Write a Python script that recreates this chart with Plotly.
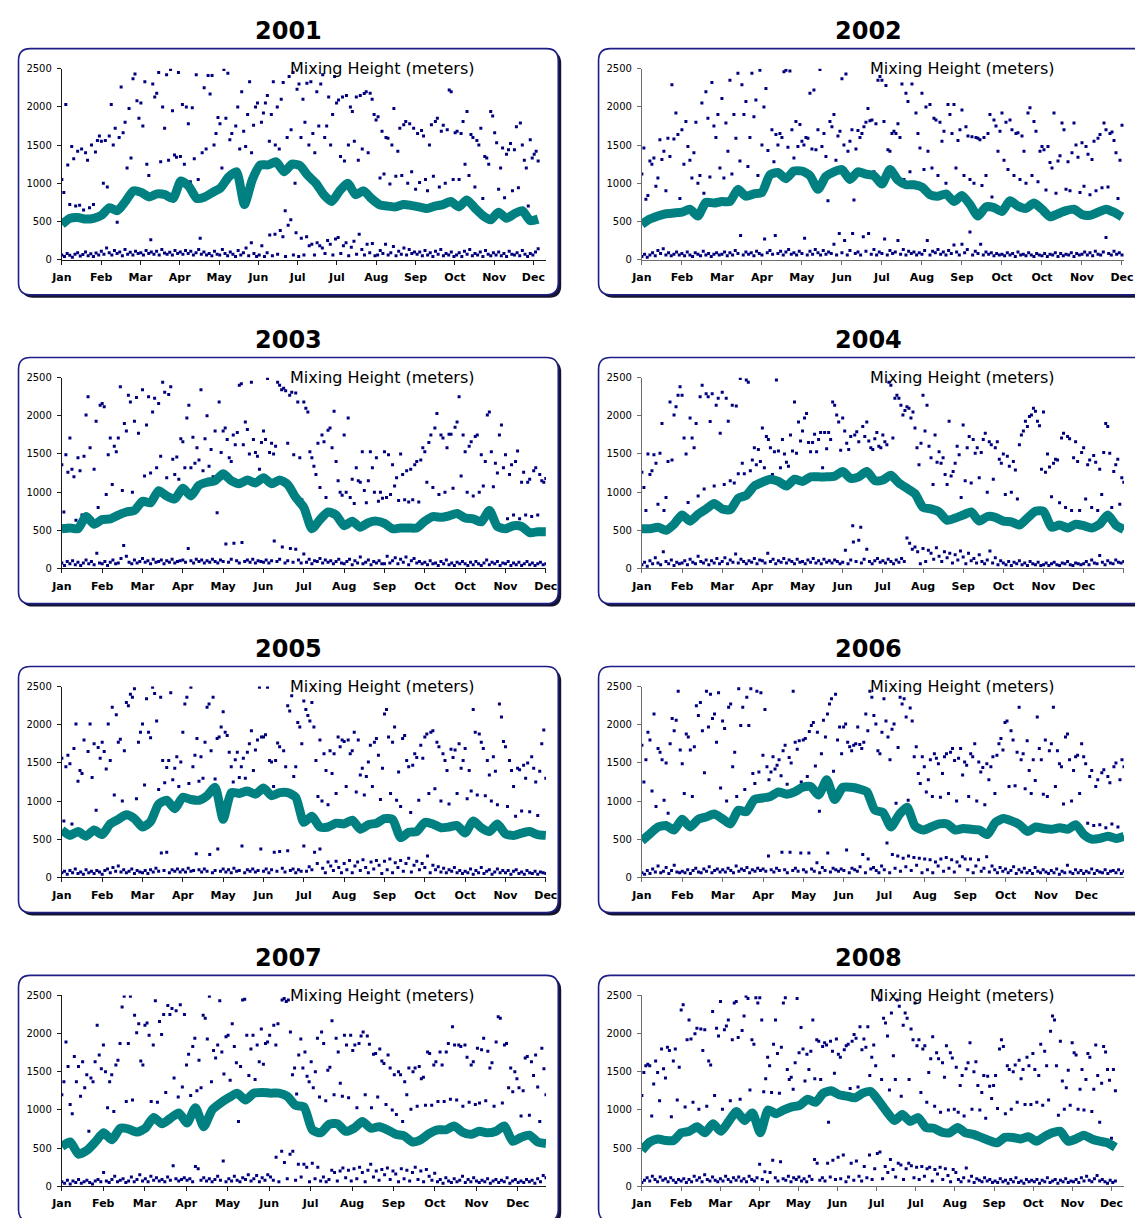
import numpy as np
import plotly.graph_objects as go

# The page keeps the browser's default 8px body margin, so the figure is sized to fit the
# 1143x1226 window exactly and every position below is given in window pixels minus that margin.
W_WIN, H_WIN = 1143, 1226
PAGE_MARGIN = 8
W, H = W_WIN - 2 * PAGE_MARGIN, H_WIN - 2 * PAGE_MARGIN

YEARS = [2001, 2002, 2003, 2004, 2005, 2006, 2007, 2008]
Y_TICKS = [0, 500, 1000, 1500, 2000, 2500]

# ---------------- tick labels (category axis labels as printed) ----------------
months_2001 = ["Jan", "Feb", "Mar", "Apr", "May", "Jun", "Jul", "Jul", "Aug", "Sep", "Oct", "Nov", "Dec"]
months_2002 = ["Jan", "Feb", "Mar", "Apr", "May", "Jun", "Jul", "Aug", "Sep", "Oct", "Oct", "Nov", "Dec"]
months_2003 = ["Jan", "Feb", "Mar", "Apr", "May", "Jun", "Jul", "Aug", "Sep", "Oct", "Oct", "Nov", "Dec"]
months_2004 = ["Jan", "Feb", "Mar", "Apr", "May", "Jun", "Jul", "Aug", "Sep", "Oct", "Nov", "Dec", "Dec"]
months_2005 = ["Jan", "Feb", "Mar", "Apr", "May", "Jun", "Jul", "Aug", "Sep", "Oct", "Oct", "Nov", "Dec"]
months_2006 = ["Jan", "Feb", "Mar", "Apr", "May", "Jun", "Jul", "Aug", "Sep", "Oct", "Nov", "Dec"]
months_2007 = ["Jan", "Feb", "Mar", "Apr", "May", "Jun", "Jul", "Aug", "Sep", "Oct", "Nov", "Dec"]
months_2008 = ["Jan", "Feb", "Mar", "Apr", "May", "Jun", "Jul", "Jul", "Aug", "Sep", "Oct", "Nov", "Dec"]

# ---------------- running mean mixing height (teal band) ----------------
teal_2001 = [460, 540, 550, 530, 540, 580, 680, 640, 760, 900, 880, 820, 860, 850, 800, 1030, 960, 800, 820, 880,
             940, 1080, 1150, 720, 1050, 1240, 1240, 1280, 1150, 1250, 1230, 1100, 1000, 850, 760, 900, 1000, 850, 900, 800,
             720, 700, 690, 720, 710, 690, 670, 700, 720, 760, 690, 780, 680, 580, 520, 620, 540, 600, 640, 510, 530]
teal_2002 = [460, 530, 570, 600, 610, 620, 660, 570, 750, 740, 760, 760, 920, 830, 860, 880, 1110, 1140, 1060, 1160,
             1160, 1100, 920, 1090, 1150, 1180, 1050, 1150, 1120, 1100, 990, 1180, 1040, 980, 980, 950, 850, 830, 860, 760,
             840, 720, 570, 690, 680, 630, 770, 700, 670, 740, 660, 560, 600, 640, 660, 590, 580, 620, 660, 620, 560]
teal_2003 = [520, 530, 520, 680, 580, 640, 650, 700, 740, 760, 880, 860, 1020, 950, 910, 1050, 950, 1090, 1130, 1150,
             1240, 1150, 1110, 1160, 1120, 1190, 1110, 1160, 1100, 930, 800, 520, 640, 740, 700, 560, 620, 540, 600, 620,
             590, 520, 530, 530, 530, 620, 680, 670, 690, 720, 660, 650, 610, 760, 550, 520, 560, 550, 470, 480, 480]
teal_2004 = [520, 520, 540, 500, 580, 700, 620, 710, 780, 850, 780, 770, 920, 960, 1080, 1130, 1170, 1140, 1080, 1170,
             1140, 1200, 1200, 1200, 1210, 1270, 1180, 1200, 1270, 1150, 1160, 1220, 1120, 1050, 980, 800, 780, 740, 630, 660,
             700, 740, 620, 680, 670, 620, 610, 570, 660, 750, 750, 540, 570, 530, 580, 560, 530, 580, 700, 570, 510]
teal_2005 = [620, 550, 600, 540, 620, 560, 700, 760, 820, 770, 660, 730, 960, 1010, 900, 1050, 1020, 1010, 1070, 1180,
             760, 1110, 1100, 1130, 1090, 1170, 1070, 1110, 1110, 1050, 720, 800, 660, 660, 710, 700, 750, 630, 690, 710,
             770, 760, 520, 590, 600, 720, 700, 650, 660, 680, 580, 740, 650, 600, 700, 570, 550, 580, 600, 560, 550]
teal_2006 = [480, 570, 660, 680, 620, 760, 660, 760, 790, 830, 770, 700, 880, 860, 1020, 1040, 1060, 1120, 1090, 1120,
             1180, 1190, 1080, 1280, 1020, 1180, 1180, 1160, 1120, 880, 850, 660, 820, 920, 670, 620, 660, 700, 700, 620,
             640, 630, 620, 560, 720, 770, 740, 690, 600, 660, 640, 630, 650, 630, 690, 560, 500, 510, 540, 510, 540]
teal_2007 = [520, 580, 420, 470, 580, 700, 610, 760, 750, 710, 760, 900, 820, 890, 960, 830, 1030, 780, 1000, 1090,
             1160, 1220, 1130, 1220, 1230, 1220, 1220, 1180, 1060, 1040, 740, 700, 810, 820, 720, 760, 850, 760, 780, 740,
             680, 660, 580, 610, 690, 740, 740, 790, 710, 680, 720, 700, 720, 790, 590, 640, 670, 580, 560]
teal_2008 = [470, 580, 620, 600, 600, 700, 720, 780, 700, 820, 720, 850, 980, 860, 960, 700, 1000, 950, 1000, 1040,
             1060, 1140, 1100, 1220, 1250, 1200, 1180, 1160, 1220, 1240, 1120, 980, 860, 940, 850, 900, 770, 760, 710, 700,
             770, 700, 680, 640, 600, 570, 640, 640, 620, 650, 590, 650, 700, 720, 590, 620, 670, 620, 590, 570, 510]

# ---------------- daily maximum mixing heights (upper dots) ----------------
upper_2001 = [1050, 880, 2030, 1240, 720, 1480, 1320, 700, 1420, 710, 1450, 650, 1400, 1300, 680, 1500, 720, 1410, 1560, 1620,
              1550, 1000, 1560, 950, 1620, 2030, 1500, 1720, 490, 1600, 2260, 1660, 1800, 1200, 1980, 1330, 2370, 2430, 2080, 1850,
              2050, 1750, 2330, 1250, 1100, 260, 2300, 2130, 2180, 2450, 1280, 2000, 1720, 2420, 1300, 2490, 1950, 1370, 1340, 2450,
              1350, 2030, 1250, 2000, 1780, 1020, 1990, 1320, 2420, 1050, 280, 1400, 2250, 1450, 2410, 2170, 2410, 1500, 1650, 1860,
              1780, 1200, 2490, 1850, 2440, 1570, 1650, 1150, 1750, 2000, 1450, 2200, 1680, 1480, 1900, 2330, 1400, 1760, 2000, 2050,
              1200, 1800, 1920, 2050, 2150, 1550, 1900, 2330, 1500, 2000, 1450, 2100, 2320, 640, 1600, 2400, 1700, 2450, 1000, 2230,
              2300, 1600, 2100, 1800, 2310, 1500, 2330, 1650, 1400, 2200, 1750, 2300, 2420, 1600, 1750, 2130, 1500, 1900, 2400, 2050,
              2090, 1350, 2130, 1290, 2150, 1500, 2000, 1940, 1550, 2130, 1300, 2150, 1450, 2175, 2200, 1400, 2180, 2100, 1900, 1830,
              1870, 1070, 1680, 1120, 1600, 1590, 990, 1500, 1980, 1090, 1420, 1720, 1100, 1765, 1810, 1000, 1780, 1150, 1720, 920,
              1650, 1010, 1690, 1620, 1050, 900, 1500, 1765, 1090, 1810, 1850, 950, 1680, 1760, 1000, 1700, 2220, 2200, 1050, 1660,
              1680, 1050, 1650, 1810, 1250, 1940, 1100, 1640, 1600, 950, 1560, 1500, 1720, 800, 1350, 1330, 1250, 1940, 1880, 1660,
              1530, 920, 1200, 1460, 810, 1380, 1440, 1520, 900, 1440, 1740, 940, 1790, 1500, 1300, 1200, 700, 1570, 1330, 1380,
              1420, 1290]
upper_2002 = [1120, 1460, 790, 840, 1290, 1250, 1330, 960, 1070, 1570, 1310, 1420, 900, 1590, 1350, 2290, 1580, 1920, 1640, 800,
              1700, 1250, 1810, 1480, 1300, 1070, 1400, 1800, 1000, 1100, 2050, 870, 2200, 1850, 1080, 2320, 1750, 1600, 1900, 1200,
              2110, 1070, 1790, 1420, 2350, 1120, 1900, 1590, 2440, 1290, 2290, 1900, 2070, 1220, 1600, 2440, 1870, 2090, 1100, 2480,
              1500, 2000, 2240, 1430, 1120, 1700, 1280, 1640, 1500, 1650, 1600, 2460, 2480, 1470, 2470, 1700, 1330, 1810, 1480, 1770,
              1550, 1500, 1600, 1590, 2180, 1450, 2220, 1440, 1700, 2490, 1480, 1650, 1350, 770, 1810, 1740, 1900, 1300, 1620, 1680,
              2370, 1500, 2430, 1420, 1550, 1700, 780, 1450, 1690, 1600, 1650, 1740, 1800, 1980, 1820, 1830, 1150, 1780, 2350, 2400,
              2350, 1810, 2280, 1440, 1420, 1650, 1680, 1650, 1780, 1600, 2300, 1050, 2180, 2070, 1150, 2300, 1000, 1920, 1650, 1460,
              2180, 1180, 2000, 1420, 2030, 1200, 1850, 1830, 1100, 1800, 1550, 1680, 1000, 2030, 1900, 1650, 2030, 1200, 1560, 1700,
              1960, 1100, 1740, 1620, 1050, 1610, 1000, 1600, 1590, 1570, 970, 1600, 1100, 1650, 1900, 820, 1830, 1750, 1420, 1680,
              1920, 1300, 1800, 1180, 1830, 1700, 1100, 1650, 1660, 1050, 1620, 1420, 1000, 1920, 1990, 1100, 1810, 1680, 1020, 1420,
              1480, 1440, 910, 1480, 1270, 1200, 1920, 870, 1290, 1360, 1790, 1700, 920, 1280, 900, 1400, 1790, 1500, 1340, 880,
              1530, 960, 1480, 1380, 850, 1310, 1550, 900, 1590, 1640, 940, 1790, 1700, 950, 1650, 1670, 1560, 1400, 800, 1300,
              1760]
upper_2003 = [1360, 740, 1490, 1260, 1710, 1300, 1200, 630, 1450, 1280, 700, 1470, 2010, 2250, 1580, 650, 1300, 1930, 800, 2140,
              2160, 2120, 970, 1490, 1710, 1100, 1600, 1530, 1710, 2380, 1020, 1900, 1800, 2270, 2180, 1000, 1930, 2240, 1770, 900,
              2340, 1210, 1880, 2250, 1250, 2050, 2230, 1320, 2160, 1470, 2440, 2310, 1190, 2280, 2380, 1430, 1230, 1460, 1170, 1700,
              1660, 1320, 1970, 2140, 1320, 1720, 1380, 1580, 1420, 2340, 1280, 1700, 2000, 1340, 1560, 1200, 1800, 730, 2180, 1520,
              1800, 1840, 1690, 1450, 1400, 1750, 1620, 1780, 2400, 2420, 1620, 1920, 1820, 1500, 2440, 1690, 1520, 1470, 1300, 1650,
              1800, 1690, 2490, 1520, 1640, 1500, 1600, 2440, 2400, 2340, 2360, 2330, 1640, 2270, 2310, 1490, 2300, 2180, 1450, 900,
              2180, 2100, 2050, 1530, 1450, 1340, 1230, 1640, 1060, 1750, 1660, 930, 1810, 1840, 1580, 2060, 1400, 1150, 1000, 960,
              1750, 1000, 1970, 930, 1170, 850, 1320, 1150, 1130, 1530, 1020, 860, 1150, 1530, 1320, 1000, 1450, 880, 1000, 920,
              1530, 930, 1490, 970, 1360, 1080, 1190, 890, 1500, 1230, 900, 1280, 870, 1300, 900, 1360, 1400, 870, 1420, 1580,
              1530, 1130, 1650, 1750, 1060, 1840, 2030, 970, 1750, 1710, 1000, 1580, 1760, 1760, 1050, 1850, 1920, 2250, 1210, 1750,
              1530, 1000, 1600, 1660, 950, 1730, 1750, 1000, 1490, 1080, 1400, 2010, 2050, 1530, 1070, 1380, 1250, 1750, 1880, 1320,
              1490, 650, 1230, 1360, 700, 1400, 1540, 650, 1130, 1260, 700, 1130, 1170, 680, 1280, 1320, 700, 1230, 1150, 1130,
              1180]
upper_2004 = [1260, 1060, 760, 1500, 1230, 1280, 1490, 1380, 840, 1510, 1900, 760, 930, 1400, 2180, 1420, 2010, 2120, 2270, 2380,
              2270, 1710, 1500, 865, 1970, 1710, 1580, 1900, 950, 2250, 2400, 1040, 2290, 2250, 1925, 2290, 1080, 2140, 2230, 1770,
              2310, 1100, 2230, 1930, 1150, 2140, 1120, 2130, 1240, 2490, 1380, 1240, 2470, 2440, 1280, 1420, 1580, 1360, 1560, 1400,
              1840, 1320, 1730, 1690, 1580, 1230, 1530, 2470, 1540, 1320, 1690, 1500, 1390, 1340, 1750, 1540, 2180, 1510, 1920, 1670,
              1800, 1970, 2030, 1650, 1530, 1650, 1760, 1530, 1690, 1780, 1320, 1780, 1570, 1780, 1690, 2180, 2140, 2010, 1920, 1550,
              1970, 1800, 1640, 1560, 1730, 560, 1750, 1790, 1660, 540, 1860, 1730, 1920, 1670, 1580, 1560, 1700, 1780, 1600, 1580,
              1750, 1660, 1620, 2440, 2400, 1710, 2230, 2270, 2230, 2140, 2010, 2070, 2120, 2100, 1970, 2050, 1840, 1580, 1360, 1640,
              2270, 1800, 2140, 1600, 1450, 1100, 1750, 1390, 1530, 1380, 1450, 1230, 1100, 1930, 1210, 1270, 1380, 1600, 1490, 930,
              1880, 1150, 1580, 1730, 1120, 1690, 1510, 1580, 1190, 1520, 1690, 1770, 1000, 1660, 1620, 1170, 1580, 1660, 1430, 1380,
              1500, 970, 1470, 1340, 1000, 1400, 1290, 910, 1620, 1750, 1800, 1930, 1860, 1990, 2010, 2100, 2060, 1930, 1870, 1300,
              2050, 1260, 1500, 1330, 940, 1380, 1430, 1420, 860, 1710, 1770, 800, 1730, 1700, 760, 1450, 1660, 1400, 760, 1520,
              1580, 910, 1360, 1420, 800, 1480, 1390, 760, 1300, 970, 1520, 1900, 1860, 1510, 800, 1270, 1360, 1430, 840, 1190,
              1130]
upper_2005 = [1560, 740, 1450, 1600, 1490, 700, 1690, 2010, 1260, 1400, 1360, 1800, 580, 1650, 2010, 1310, 1750, 880, 1700, 1560,
              1770, 1650, 1420, 2010, 1530, 2230, 1080, 2130, 1770, 1810, 1000, 1660, 2290, 2250, 2400, 2360, 2470, 1030, 1770, 1900,
              2010, 1210, 2340, 1900, 1830, 2490, 2410, 2050, 1150, 2360, 1530, 1240, 1440, 1530, 2420, 1280, 1430, 1580, 1190, 1510,
              1900, 2270, 2360, 1230, 2490, 1450, 1600, 1820, 1260, 1580, 1300, 1770, 2230, 2270, 1660, 2360, 1290, 1820, 1840, 1970,
              2170, 1900, 1860, 1640, 1450, 1250, 1540, 1640, 1310, 1450, 1560, 1300, 1640, 1750, 1920, 1400, 1670, 1800, 2490, 1840,
              1840, 1870, 2490, 1530, 1510, 1190, 1530, 1760, 1710, 1100, 1660, 1450, 2250, 2180, 2380, 1320, 1450, 2030, 1970, 1750,
              2310, 2200, 2120, 2050, 2290, 1970, 1530, 1060, 1800, 1000, 1620, 1400, 950, 1660, 1360, 1620, 1100, 1840, 1710, 1800,
              1780, 1190, 1800, 1620, 1660, 1900, 1120, 1800, 1340, 1430, 1080, 1320, 1510, 1730, 1190, 1770, 1820, 1600, 1020, 1430,
              2140, 2200, 1840, 1100, 1770, 1970, 1010, 1380, 930, 1820, 1860, 1530, 1450, 850, 1470, 1620, 1570, 1010, 1730, 1560,
              1840, 1880, 1100, 1900, 1920, 1160, 1770, 1710, 1000, 1620, 1530, 1400, 960, 1680, 1570, 1670, 1100, 1750, 1430, 1530,
              1690, 1030, 1400, 1130, 2200, 1900, 1080, 1880, 1770, 1690, 1070, 1530, 1340, 1000, 1580, 1390, 950, 2270, 2100, 1780,
              1710, 930, 1530, 1400, 1190, 800, 1430, 1410, 870, 1470, 1300, 1500, 860, 1580, 1430, 1250, 810, 1390, 1750, 1930,
              1300]
upper_2006 = [1730, 1250, 1540, 1900, 1800, 1130, 2140, 930, 1690, 1640, 1540, 1010, 1500, 840, 1750, 2080, 1920, 2060, 2440, 1670,
              1490, 1100, 1880, 1840, 1670, 1060, 1710, 2250, 2120, 2290, 1920, 1370, 2440, 1970, 2400, 2080, 2140, 1770, 2420, 1170,
              2050, 1950, 1000, 2230, 2270, 1450, 1640, 1060, 2470, 1990, 2230, 1150, 2360, 1990, 2470, 1360, 1230, 2440, 1380, 2420,
              1600, 2200, 1450, 1280, 1380, 1580, 1420, 1470, 1540, 1330, 1660, 1730, 1220, 1570, 1500, 2440, 1770, 1680, 1790, 1250,
              1800, 1820, 1320, 1910, 1990, 2030, 1460, 1900, 865, 1620, 2060, 1840, 2140, 2270, 2340, 1390, 2400, 1800, 1970, 1620,
              1970, 2010, 1770, 1710, 1660, 1730, 1750, 1970, 1740, 1690, 1770, 2140, 1920, 2440, 2360, 2120, 2010, 1660, 1620, 1900,
              2340, 2050, 1840, 1540, 1940, 2010, 970, 1700, 2360, 2270, 2340, 2100, 1010, 2220, 2050, 1580, 1710, 1360, 1230, 1580,
              1450, 1120, 1280, 1540, 1060, 1620, 1560, 1490, 1050, 1360, 1580, 1620, 1100, 1640, 1690, 1530, 1000, 1560, 1690, 1340,
              1510, 1470, 1060, 1620, 1580, 1750, 1000, 1510, 1380, 1440, 950, 1490, 1280, 1450, 1580, 1100, 1600, 1750, 1820, 1670,
              2030, 2050, 1190, 1920, 1800, 1200, 1640, 2230, 1540, 1620, 1160, 1790, 1400, 1100, 1540, 1270, 2100, 1690, 1540, 1090,
              1800, 1060, 1660, 1750, 2230, 1190, 1660, 1490, 1450, 960, 1840, 1880, 1540, 1000, 1400, 1580, 1600, 1100, 1750, 1580,
              1490, 710, 1320, 1400, 680, 1190, 1280, 690, 1370, 1410, 650, 1320, 1240, 700, 1450, 1500, 660, 1280, 1540, 1450]
upper_2007 = [1200, 1370, 1890, 1570, 1070, 950, 1700, 1370, 1570, 1180, 1630, 1290, 1460, 720, 1420, 1370, 1630, 2110, 1720, 1540,
              1850, 1500, 1030, 1370, 1460, 980, 1590, 1650, 1870, 2350, 2490, 1110, 1870, 2490, 1130, 2240, 2010, 2130, 1640, 1590,
              2110, 2140, 1980, 1110, 1850, 2430, 1100, 2160, 1990, 2250, 1230, 2370, 2250, 2330, 1420, 2300, 1170, 2380, 1300, 2250,
              1590, 1730, 1190, 1830, 1940, 1250, 1650, 1290, 2240, 2200, 1930, 2490, 1370, 1780, 1680, 1850, 2430, 1760, 1470, 1960,
              1980, 1390, 2130, 1830, 1620, 850, 1570, 2440, 2450, 1980, 1450, 1800, 1980, 1400, 1850, 1630, 2060, 1600, 1870, 1890,
              1980, 1220, 2110, 1850, 2130, 1230, 2440, 2460, 2420, 2440, 2020, 1460, 1550, 1210, 1720, 1930, 1550, 1760, 1440, 1370,
              1630, 1290, 1500, 1940, 1170, 2020, 1870, 1120, 1520, 1560, 2170, 1200, 1940, 1760, 1350, 1180, 1980, 1850, 1160, 1980,
              1780, 1850, 1030, 1870, 1970, 2020, 1200, 1970, 1860, 1030, 1730, 1740, 1170, 1800, 1640, 1610, 1070, 1720, 1550, 1000,
              1460, 940, 1500, 1460, 850, 1370, 1200, 1550, 1010, 1500, 1550, 1050, 1570, 1410, 1430, 1060, 1760, 1740, 1060, 1590,
              1630, 1110, 1760, 1590, 1110, 1760, 1870, 1140, 2090, 1850, 1130, 1850, 1830, 1050, 1850, 1690, 1100, 1590, 1630, 1070,
              1810, 1090, 1790, 1940, 1120, 1770, 1550, 1620, 1050, 1890, 2220, 2200, 1090, 1850, 1870, 1290, 1550, 1240, 1500, 1410,
              1290, 920, 1250, 1680, 1700, 930, 1630, 1450, 1720, 1300, 850, 1810, 1540, 1200]
upper_2008 = [1190, 1490, 1580, 1600, 1580, 920, 1340, 1640, 1490, 1120, 1800, 1540, 1420, 1820, 1780, 910, 1640, 1800, 1130, 1560,
              2310, 2380, 1040, 1920, 2180, 1930, 1100, 2000, 2070, 1010, 2060, 1780, 2050, 1050, 1640, 1590, 2290, 1190, 2070, 1970,
              2420, 1010, 2050, 2100, 2180, 1120, 1920, 2400, 2420, 1950, 1140, 2040, 2230, 2490, 2460, 1260, 1920, 1860, 2470, 2400,
              2470, 2180, 1240, 1410, 1690, 1580, 1230, 1860, 2180, 1740, 1220, 1820, 2400, 2470, 1530, 1400, 1430, 1270, 1620, 2460,
              1750, 2080, 1800, 1380, 1730, 1530, 1770, 2180, 1410, 1920, 1900, 1400, 1830, 1880, 1850, 840, 1900, 1770, 1480, 1930,
              1730, 1690, 1230, 1790, 1840, 1860, 1280, 1900, 1990, 1940, 1300, 2090, 1790, 1930, 1820, 2090, 1450, 1690, 1850, 1580,
              2470, 2440, 1400, 2200, 2140, 1970, 1260, 2270, 1710, 1400, 2440, 2360, 1180, 2110, 2270, 2200, 1400, 2060, 1920, 2400,
              1840, 1920, 1230, 1800, 1840, 1100, 1490, 1670, 1960, 1050, 1750, 1670, 970, 1620, 1430, 1840, 1000, 1750, 1680, 1010,
              1560, 970, 1320, 1450, 920, 1540, 1620, 1880, 1010, 1500, 1630, 1320, 1000, 1230, 1450, 890, 1440, 1310, 1150, 1320,
              1450, 1020, 1800, 1920, 1830, 950, 1580, 1530, 1010, 1500, 1590, 1100, 1650, 1410, 1530, 1070, 1690, 1580, 1070, 1740,
              1530, 1100, 1450, 1860, 1060, 1770, 1580, 1130, 2030, 2230, 2180, 1580, 930, 1900, 1380, 1010, 1290, 1520, 1060, 1880,
              1750, 1720, 1010, 1270, 1530, 1000, 1400, 1740, 1690, 980, 1270, 1850, 1450, 840, 1350, 1830, 1760, 1530, 1390, 630,
              1530, 1250]

# ---------------- daily minimum mixing heights (lower dots) ----------------
lower_2001 = [60, 40, 80, 55, 30, 70, 90, 45, 65, 100, 50, 75, 40, 85, 60,
              110, 70, 150, 90, 60, 120, 80, 100, 50, 130, 70, 95, 60, 110, 80,
              90, 60, 120, 80, 100, 70, 110, 60, 130, 85, 70, 95, 60, 120, 80,
              100, 70, 120, 80, 110, 60, 90, 130, 70, 100, 60, 80, 50, 110, 70,
              60, 130, 80, 50, 100, 70, 40, 120, 60, 90, 150, 50, 220, 80, 40,
              60, 180, 40, 90, 320, 50, 330, 70, 380, 300, 40, 450, 520, 60, 350,
              40, 280, 60, 300, 180, 200, 60, 220, 180, 150, 80, 250, 200, 60, 270,
              290, 80, 180, 220, 50, 160, 240, 70, 330, 130, 60, 200, 90, 210, 50,
              60, 120, 80, 200, 60, 90, 170, 50, 110, 70, 150, 60, 130, 80, 100,
              70, 100, 50, 120, 60, 90, 40, 110, 70, 130, 50, 80, 60, 100, 40,
              60, 90, 40, 110, 70, 130, 50, 80, 60, 100, 40, 120, 70, 50, 90,
              60, 100, 50, 80, 40, 110, 70, 60, 90, 50, 120, 70, 40, 80, 60,
              100, 140]
lower_2002 = [40, 70, 30, 60, 90, 50, 120, 80, 140, 60, 90, 50, 70, 100, 60,
              80, 50, 100, 60, 40, 90, 70, 50, 110, 60, 80, 40, 70, 90, 60,
              70, 100, 50, 90, 60, 120, 80, 315, 60, 100, 70, 90, 50, 110, 80,
              60, 270, 90, 120, 70, 315, 80, 110, 60, 100, 130, 70, 90, 60, 110,
              80, 280, 60, 110, 70, 130, 90, 60, 120, 70, 100, 80, 200, 60, 340,
              90, 250, 60, 120, 340, 80, 100, 60, 300, 110, 340, 70, 130, 60, 100,
              80, 270, 60, 120, 80, 100, 250, 70, 130, 60, 110, 80, 100, 60, 90,
              70, 120, 250, 60, 110, 90, 130, 70, 100, 60, 120, 80, 190, 100, 60,
              200, 90, 130, 360, 60, 110, 80, 200, 60, 100, 70, 90, 50, 80, 60,
              70, 50, 90, 60, 80, 40, 100, 60, 70, 50, 90, 60, 40, 80, 60,
              50, 80, 40, 70, 60, 90, 40, 80, 50, 70, 60, 90, 40, 80, 60,
              70, 100, 60, 90, 50, 110, 70, 60, 100, 290, 80, 60, 110, 70, 90,
              60]
lower_2003 = [70, 40, 90, 60, 100, 50, 80, 40, 70, 110, 60, 90, 50, 200, 70,
              60, 90, 40, 80, 110, 60, 70, 130, 300, 160, 80, 60, 110, 70, 90,
              130, 80, 100, 60, 120, 80, 90, 110, 60, 100, 80, 120, 70, 90, 100,
              110, 80, 260, 100, 70, 120, 90, 110, 70, 100, 80, 120, 90, 70, 110,
              90, 320, 80, 120, 330, 100, 70, 340, 90, 110, 80, 120, 70, 100, 90,
              80, 110, 70, 100, 360, 90, 120, 280, 70, 100, 260, 80, 250, 110, 70,
              190, 80, 120, 60, 100, 90, 130, 70, 110, 80, 100, 60, 90, 120, 70,
              60, 90, 120, 50, 100, 70, 150, 60, 80, 110, 50, 90, 70, 100, 60,
              60, 160, 70, 100, 140, 60, 120, 80, 150, 50, 100, 130, 70, 90, 60,
              80, 50, 100, 60, 70, 40, 90, 60, 110, 50, 70, 40, 80, 60, 90,
              60, 40, 80, 50, 90, 60, 40, 70, 110, 50, 80, 60, 90, 40, 70,
              60, 90, 40, 70, 50, 80, 40, 60, 90, 50, 70, 40, 60, 80, 50,
              60]
lower_2004 = [50, 80, 30, 100, 60, 140, 70, 50, 220, 90, 60, 110, 40, 80, 60,
              70, 100, 50, 120, 80, 60, 160, 90, 70, 110, 50, 100, 70, 130, 60,
              90, 140, 60, 110, 80, 190, 70, 120, 90, 60, 100, 80, 130, 60, 110,
              100, 70, 200, 90, 120, 60, 100, 80, 130, 70, 110, 90, 60, 120, 80,
              90, 60, 110, 80, 130, 70, 100, 60, 120, 80, 100, 70, 110, 90, 60,
              80, 240, 60, 110, 345, 90, 370, 70, 120, 250, 90, 60, 100, 130, 80,
              100, 70, 120, 90, 60, 110, 80, 130, 90, 400, 330, 250, 280, 220, 60,
              260, 90, 240, 200, 120, 270, 160, 90, 220, 140, 200, 70, 180, 110, 230,
              150, 60, 200, 100, 130, 70, 180, 90, 60, 110, 230, 70, 140, 50, 100,
              70, 50, 90, 40, 80, 60, 100, 50, 70, 40, 90, 60, 50, 80, 40,
              50, 70, 40, 60, 80, 50, 40, 70, 60, 90, 50, 40, 70, 60, 50,
              60, 90, 50, 110, 70, 60, 170, 80, 50, 100, 70, 60, 110, 80, 70,
              90]
lower_2005 = [60, 80, 40, 90, 60, 110, 50, 70, 40, 100, 60, 80, 50, 90, 70,
              40, 90, 110, 60, 130, 80, 150, 70, 100, 60, 80, 110, 50, 90, 70,
              60, 90, 50, 100, 70, 120, 80, 320, 90, 330, 60, 100, 80, 110, 70,
              100, 70, 120, 80, 90, 310, 100, 70, 110, 80, 300, 60, 90, 370, 80,
              110, 70, 100, 60, 120, 80, 90, 410, 60, 100, 80, 110, 70, 90, 370,
              80, 110, 60, 100, 330, 80, 340, 120, 70, 350, 90, 110, 60, 100, 80,
              410, 80, 140, 100, 330, 180, 370, 120, 60, 200, 150, 90, 210, 130, 60,
              180, 100, 220, 60, 150, 200, 90, 230, 130, 60, 200, 110, 220, 160, 50,
              210, 100, 240, 60, 190, 130, 220, 80, 180, 250, 70, 160, 210, 100, 180,
              130, 280, 60, 160, 100, 140, 70, 120, 60, 100, 80, 130, 60, 90, 50,
              80, 60, 110, 40, 90, 60, 130, 50, 80, 100, 40, 70, 110, 60, 90,
              60, 90, 40, 80, 100, 50, 70, 40, 90, 60, 50, 80, 40, 70, 60,
              50]
lower_2006 = [60, 40, 90, 50, 110, 70, 150, 60, 80, 130, 50, 90, 160, 70, 60,
              80, 60, 100, 50, 90, 120, 70, 60, 110, 80, 140, 60, 90, 110, 70,
              100, 70, 120, 90, 60, 150, 80, 110, 90, 130, 60, 100, 80, 120, 90,
              110, 80, 280, 100, 70, 120, 90, 330, 100, 60, 330, 90, 120, 80, 320,
              100, 70, 320, 110, 80, 190, 60, 130, 90, 320, 70, 120, 100, 80, 110,
              90, 360, 60, 120, 100, 80, 140, 300, 60, 240, 110, 130, 90, 60, 150,
              100, 450, 60, 300, 120, 280, 80, 250, 140, 280, 90, 260, 160, 250, 60,
              240, 100, 230, 60, 200, 150, 240, 80, 260, 120, 230, 70, 200, 150, 270,
              240, 100, 240, 60, 150, 230, 80, 120, 270, 70, 150, 100, 60, 130, 80,
              110, 60, 90, 140, 50, 100, 70, 120, 60, 90, 50, 130, 80, 60, 100,
              70, 50, 90, 60, 110, 40, 80, 60, 160, 70, 50, 100, 60, 90, 50,
              80, 60, 110, 50, 90, 70, 60, 100, 50, 80, 90, 60, 100, 50, 80]
lower_2007 = [60, 40, 80, 30, 70, 50, 90, 40, 60, 80, 50, 30, 70, 90, 60,
              180, 70, 50, 90, 130, 60, 80, 100, 50, 70, 120, 60, 90, 150, 70,
              100, 60, 130, 80, 110, 70, 90, 60, 120, 80, 270, 100, 70, 90, 110,
              80, 100, 60, 260, 230, 80, 110, 70, 100, 60, 90, 130, 80, 330, 60,
              100, 70, 130, 80, 60, 110, 90, 150, 70, 100, 140, 60, 110, 80, 150,
              120, 80, 380, 60, 460, 310, 100, 420, 460, 80, 290, 120, 290, 250, 60,
              300, 100, 250, 70, 120, 60, 90, 210, 180, 70, 200, 240, 110, 210, 70,
              230, 100, 250, 180, 60, 210, 290, 120, 200, 80, 220, 150, 240, 90, 200,
              160, 60, 230, 100, 210, 70, 180, 250, 90, 200, 60, 220, 130, 80, 170,
              60, 90, 40, 110, 70, 50, 100, 60, 80, 130, 50, 90, 60, 110, 70,
              50, 80, 60, 100, 40, 70, 90, 50, 80, 60, 110, 40, 70, 90, 50,
              70, 50, 90, 60, 80, 40, 100, 60, 140, 110]
lower_2008 = [50, 80, 110, 70, 130, 90, 60, 120, 80, 100, 60, 110, 80, 50, 90,
              70, 100, 50, 90, 60, 130, 80, 110, 60, 150, 90, 70, 120, 80, 60,
              100, 70, 130, 90, 60, 110, 80, 120, 70, 100, 60, 130, 90, 70, 110,
              290, 90, 190, 60, 180, 340, 110, 70, 320, 100, 80, 130, 60, 110, 90,
              120, 70, 100, 60, 130, 90, 350, 300, 80, 110, 70, 300, 120, 340, 90,
              380, 100, 410, 60, 120, 300, 80, 330, 130, 70, 260, 110, 410, 90, 230,
              430, 450, 100, 260, 180, 350, 220, 120, 300, 280, 90, 230, 300, 270, 110,
              250, 90, 260, 130, 230, 250, 70, 220, 160, 250, 90, 230, 140, 60, 220,
              180, 90, 60, 110, 240, 70, 130, 50, 100, 80, 60, 110, 70, 90, 50,
              70, 50, 100, 60, 80, 40, 90, 60, 110, 50, 70, 40, 90, 60, 80,
              60, 90, 40, 80, 60, 110, 50, 70, 90, 40, 80, 60, 100, 50, 70,
              60, 90, 50, 110, 70, 130, 80, 60, 100, 140, 70, 90, 60, 40, 80,
              50, 70]

MONTHS = {2001: months_2001, 2002: months_2002, 2003: months_2003, 2004: months_2004,
          2005: months_2005, 2006: months_2006, 2007: months_2007, 2008: months_2008}
TEAL = {2001: teal_2001, 2002: teal_2002, 2003: teal_2003, 2004: teal_2004,
        2005: teal_2005, 2006: teal_2006, 2007: teal_2007, 2008: teal_2008}
UPPER = {2001: upper_2001, 2002: upper_2002, 2003: upper_2003, 2004: upper_2004,
         2005: upper_2005, 2006: upper_2006, 2007: upper_2007, 2008: upper_2008}
LOWER = {2001: lower_2001, 2002: lower_2002, 2003: lower_2003, 2004: lower_2004,
         2005: lower_2005, 2006: lower_2006, 2007: lower_2007, 2008: lower_2008}

# extent of the daily records and of each category axis, in tick intervals
SPAN = {2001: 12.12, 2002: 12.0, 2003: 12.0, 2004: 12.0, 2005: 12.0, 2006: 11.93, 2007: 11.68, 2008: 12.1}
XMAX = {2001: 12.32, 2002: 12.05, 2003: 12.005, 2004: 12.005, 2005: 12.005, 2006: 11.93, 2007: 11.68, 2008: 12.32}

NAVY = "#00007f"
TEAL_C = "#008080"
BORDER = "#1e1e86"
FONT = "DejaVu Sans"


def X(px):
    """window x pixel -> paper fraction"""
    return (px - PAGE_MARGIN) / W


def Y(py):
    """window y pixel -> paper fraction"""
    return 1 - (py - PAGE_MARGIN) / H


def clamp(v):
    return max(0.0, min(1.0, v))


def rounded(x0, y0, x1, y1, r):
    return (f"M{X(x0 + r)},{Y(y0)} L{X(x1 - r)},{Y(y0)} Q{X(x1)},{Y(y0)} {X(x1)},{Y(y0 + r)} "
            f"L{X(x1)},{Y(y1 - r)} Q{X(x1)},{Y(y1)} {X(x1 - r)},{Y(y1)} "
            f"L{X(x0 + r)},{Y(y1)} Q{X(x0)},{Y(y1)} {X(x0)},{Y(y1 - r)} "
            f"L{X(x0)},{Y(y0 + r)} Q{X(x0)},{Y(y0)} {X(x0 + r)},{Y(y0)} Z")


fig = go.Figure()
shapes, annotations, axes = [], [], {}

for i, yr in enumerate(YEARS):
    row, col = divmod(i, 2)
    dy = 312 * row
    dx = 0 if col == 0 else 591.6
    sfx = "" if i == 0 else str(i + 1)
    xa, ya = "x" + sfx, "y" + sfx
    span = SPAN[yr]

    up, lo, tl = UPPER[yr], LOWER[yr], TEAL[yr]
    fig.add_trace(go.Scatter(x=np.linspace(0, span, len(up)), y=up, mode="markers",
                             marker=dict(symbol="square", size=3, color=NAVY, line=dict(width=0)),
                             xaxis=xa, yaxis=ya, showlegend=False, hoverinfo="skip"))
    fig.add_trace(go.Scatter(x=np.linspace(0, span, len(lo)), y=lo, mode="markers",
                             marker=dict(symbol="square", size=3, color=NAVY, line=dict(width=0)),
                             xaxis=xa, yaxis=ya, showlegend=False, hoverinfo="skip"))
    fig.add_trace(go.Scatter(x=np.linspace(0, span, len(tl)), y=tl, mode="lines",
                             line=dict(color=TEAL_C, width=9, shape="spline", smoothing=0.6),
                             xaxis=xa, yaxis=ya, showlegend=False, hoverinfo="skip"))

    axis_col = "#1a1a1a" if col == 0 else "#6e6e6e"
    axes["xaxis" + sfx] = dict(
        domain=[clamp(X(51.7 + dx)), clamp(X(545.5 + dx))], range=[0, XMAX[yr]], anchor=ya,
        tickmode="array", tickvals=list(range(len(MONTHS[yr]))), ticktext=MONTHS[yr],
        ticks="outside", ticklen=4, tickwidth=1, tickcolor=axis_col, ticklabelstandoff=3,
        showline=True, linecolor=axis_col, linewidth=1,
        showgrid=False, zeroline=False, fixedrange=True,
        tickfont=dict(family=FONT, size=11, color="#000000", weight="bold"))
    axes["yaxis" + sfx] = dict(
        domain=[clamp(Y(256 + dy)), clamp(Y(63.3 + dy))], range=[0, 2500], anchor=xa,
        tickmode="array", tickvals=Y_TICKS,
        ticks="outside", ticklen=4, tickwidth=1, tickcolor=axis_col, ticklabelstandoff=3,
        showline=True, linecolor=axis_col, linewidth=1,
        showgrid=False, zeroline=False, fixedrange=True,
        tickfont=dict(family=FONT, size=10, color="#000000"))

    bx0, bx1 = 7.5 + dx, 558 + dx + (10 if col == 1 else 0)
    by0, by1 = 43 + dy, 291.5 + dy
    shapes.append(dict(type="path", xref="paper", yref="paper", layer="below",
                       path=rounded(bx0 + 3, by0 + 3, bx1 + 3, by1 + 3, 12),
                       fillcolor="#141430", line=dict(width=0)))
    shapes.append(dict(type="path", xref="paper", yref="paper", layer="below",
                       path=rounded(bx0, by0, bx1, by1, 12),
                       fillcolor="#ffffff", line=dict(color=BORDER, width=1.6)))

    annotations.append(dict(text=str(yr), x=X(283 + dx), y=Y(25 + dy), xref="paper", yref="paper",
                            xanchor="center", yanchor="middle", showarrow=False,
                            font=dict(family=FONT, size=24, color="#000000", weight="bold")))
    annotations.append(dict(text="Mixing Height (meters)", x=X(378 + dx), y=Y(63 + dy),
                            xref="paper", yref="paper", xanchor="center", yanchor="middle",
                            showarrow=False, font=dict(family=FONT, size=16, color="#000000")))

fig.update_layout(
    width=W, height=H, margin=dict(l=0, r=0, t=0, b=0),
    paper_bgcolor="#ffffff", plot_bgcolor="rgba(0,0,0,0)",
    showlegend=False, hovermode=False,
    shapes=shapes, annotations=annotations, **axes)

fig.write_html("out.html", config={"displayModeBar": False})
